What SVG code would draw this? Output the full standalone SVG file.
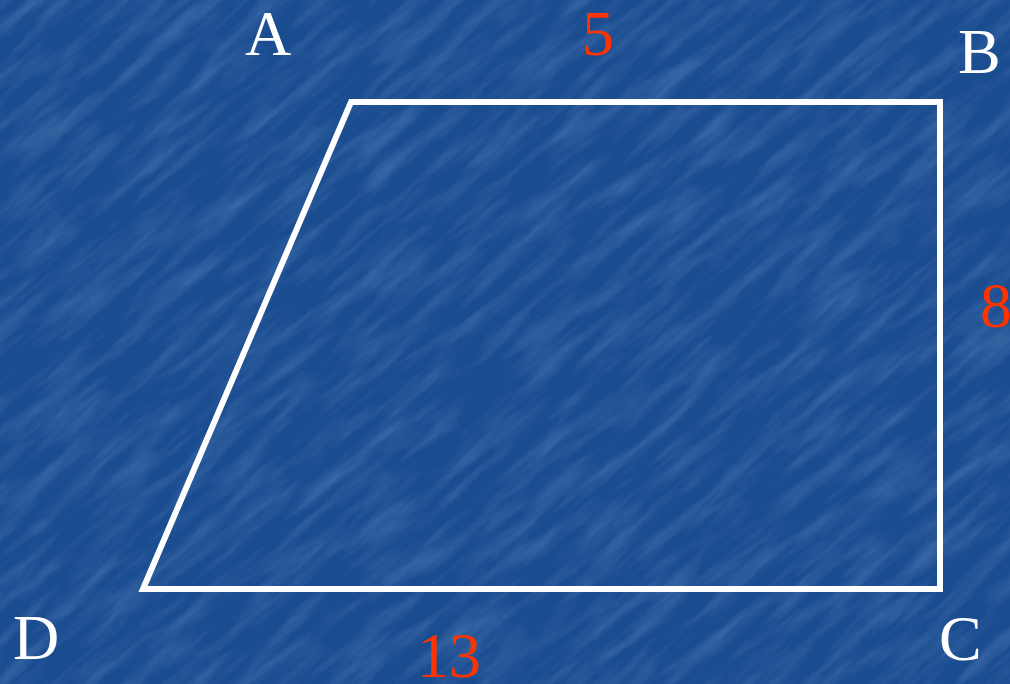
<svg xmlns="http://www.w3.org/2000/svg" width="1010" height="684" viewBox="0 0 1010 684">
  <defs>
    <style>
      .lbl { font-family: 'Liberation Serif', 'Times New Roman', Times, serif; font-size: 64px; }
      .pt { fill: #ffffff; }
      .len { fill: #ff3300; }
      .edge { fill: none; stroke: #ffffff; stroke-width: 6; stroke-linejoin: miter; }
    </style>
    <filter id="tex" x="0" y="0" width="100%" height="100%">
      <feTurbulence type="fractalNoise" baseFrequency="0.012 0.07" numOctaves="4" seed="7" result="n"/>
      <feColorMatrix in="n" type="matrix" values="0 0 0 0 0.4  0 0 0 0 0.58  0 0 0 0 0.85  0 0 0 1.4 -0.55" result="c"/>
      <feComposite in="c" in2="SourceGraphic" operator="in"/>
    </filter>
  </defs>
  <rect id="background" x="0" y="0" width="1010" height="684" fill="#1a4c90"/>
  <g transform="rotate(-40 505 342)">
    <rect x="-300" y="-400" width="1610" height="1484" fill="#1a4c90" filter="url(#tex)" opacity="0.3"/>
  </g>
  <g id="trapezoid">
    <polygon class="edge" points="351,102 940,102 940,589 143,589"/>
  </g>
  <g id="vertex-A"><text class="lbl pt" x="245" y="55">A</text></g>
  <g id="vertex-B"><text class="lbl pt" x="958" y="73">B</text></g>
  <g id="vertex-C"><text class="lbl pt" x="939" y="660">C</text></g>
  <g id="vertex-D"><text class="lbl pt" x="13" y="659">D</text></g>
  <g id="length-AB"><text class="lbl len" x="582" y="55">5</text></g>
  <g id="length-BC"><text class="lbl len" x="980" y="327">8</text></g>
  <g id="length-DC"><text class="lbl len" x="417" y="677">13</text></g>
</svg>
